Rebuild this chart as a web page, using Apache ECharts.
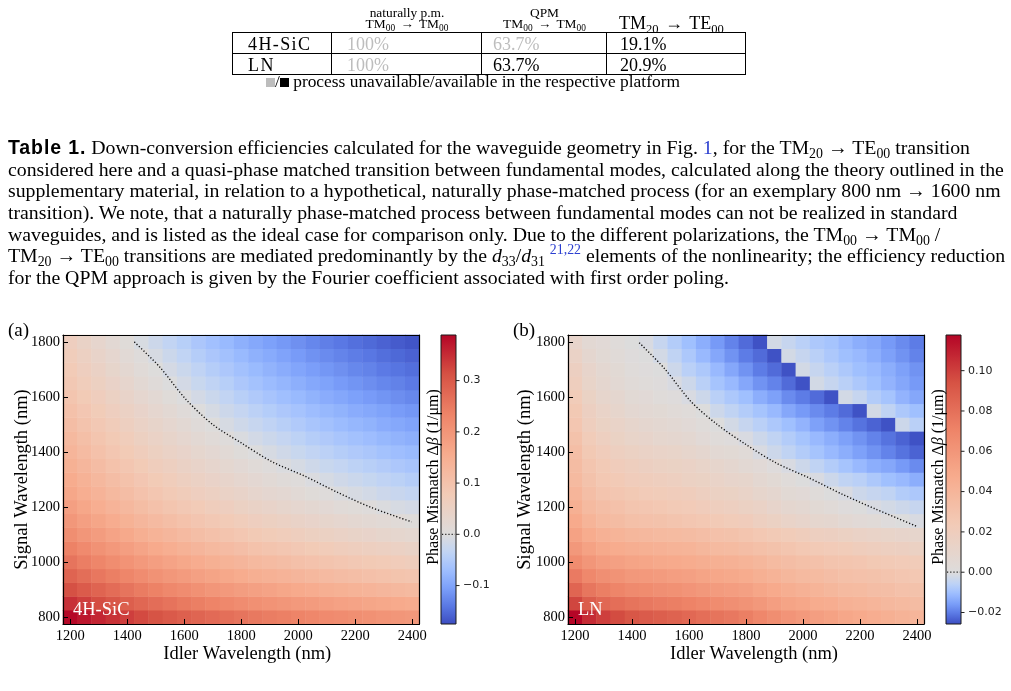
<!DOCTYPE html>
<html><head><meta charset="utf-8">
<script src="https://cdn.jsdelivr.net/npm/echarts@6/dist/echarts.min.js"></script>
<style>
html,body{margin:0;padding:0;background:#fff;width:1011px;height:691px;overflow:hidden;}
#chart{position:absolute;left:0;top:0;width:1011px;height:691px;}
.t{position:absolute;font-family:"Liberation Serif","Times New Roman",serif;color:#000;white-space:nowrap;line-height:1;z-index:2;}
.t sub{font-size:0.7em;vertical-align:-0.3em;line-height:0;}
.t sup{font-size:0.7em;vertical-align:0.55em;line-height:0;}
.ar{margin:0 2px;}
.ln{position:absolute;background:#000;z-index:2;}
.gray{color:#bdbdbd;}
.blue{color:#2b3fd0;}
.cap{font-size:19.8px;left:8px;}
.tb{font-family:"Liberation Sans",Arial,sans-serif;font-weight:bold;}
</style></head>
<body>
<div id="chart"></div>

<div class="t" style="left:332px;width:150px;text-align:center;top:6px;font-size:13.4px">naturally p.m.</div>
<div class="t" style="left:332px;width:150px;text-align:center;top:17px;font-size:13.4px">TM<sub>00</sub> <span class="ar">→</span> TM<sub>00</sub></div>
<div class="t" style="left:482px;width:125px;text-align:center;top:6px;font-size:13.4px">QPM</div>
<div class="t" style="left:482px;width:125px;text-align:center;top:17px;font-size:13.4px">TM<sub>00</sub> <span class="ar">→</span> TM<sub>00</sub></div>
<div class="t" style="left:619px;top:14px;font-size:18px">TM<sub>20</sub> <span class="ar">→</span> TE<sub>00</sub></div>

<div class="ln" style="left:232px;top:32px;width:514px;height:1px"></div>
<div class="ln" style="left:232px;top:53px;width:514px;height:1px"></div>
<div class="ln" style="left:232px;top:74px;width:514px;height:1px"></div>
<div class="ln" style="left:232px;top:32px;width:1px;height:43px"></div>
<div class="ln" style="left:331px;top:32px;width:1px;height:43px"></div>
<div class="ln" style="left:481px;top:32px;width:1px;height:43px"></div>
<div class="ln" style="left:606px;top:32px;width:1px;height:43px"></div>
<div class="ln" style="left:745px;top:32px;width:1px;height:43px"></div>

<div class="t" style="left:248px;top:35px;font-size:18px;letter-spacing:1.4px">4H-SiC</div>
<div class="t gray" style="left:347px;top:35px;font-size:18px">100%</div>
<div class="t gray" style="left:493px;top:35px;font-size:18px">63.7%</div>
<div class="t" style="left:620px;top:35px;font-size:18px">19.1%</div>
<div class="t" style="left:248px;top:56px;font-size:18px;letter-spacing:1.5px">LN</div>
<div class="t gray" style="left:347px;top:56px;font-size:18px">100%</div>
<div class="t" style="left:493px;top:56px;font-size:18px">63.7%</div>
<div class="t" style="left:620px;top:56px;font-size:18px">20.9%</div>

<div class="t" style="left:266px;top:73px;font-size:17.4px"><span style="display:inline-block;width:9px;height:9px;background:#bdbdbd"></span>/<span style="display:inline-block;width:9px;height:9px;background:#000"></span> process unavailable/available in the respective platform</div>

<div class="t cap" style="top:137.5px"><span class="tb" style="font-size:19.5px;letter-spacing:0.9px">Table 1.</span> Down-conversion efficiencies calculated for the waveguide geometry in Fig. <span class="blue">1</span>, for the TM<sub>20</sub> → TE<sub>00</sub> transition</div>
<div class="t cap" style="top:159.5px">considered here and a quasi-phase matched transition between fundamental modes, calculated along the theory outlined in the</div>
<div class="t cap" style="top:180.5px">supplementary material, in relation to a hypothetical, naturally phase-matched process (for an exemplary 800 nm → 1600 nm</div>
<div class="t cap" style="top:202.5px">transition). We note, that a naturally phase-matched process between fundamental modes can not be realized in standard</div>
<div class="t cap" style="top:224.5px">waveguides, and is listed as the ideal case for comparison only. Due to the different polarizations, the TM<sub>00</sub> → TM<sub>00</sub> /</div>
<div class="t cap" style="top:245.5px">TM<sub>20</sub> → TE<sub>00</sub> transitions are mediated predominantly by the <i>d</i><sub>33</sub>/<i>d</i><sub>31</sub> <sup class="blue">21,22</sup> elements of the nonlinearity; the efficiency reduction</div>
<div class="t cap" style="top:267.5px">for the QPM approach is given by the Fourier coefficient associated with first order poling.</div>

<script>
// ---------------- data ----------------
const idler = [1200,1250,1300,1350,1400,1450,1500,1550,1600,1650,1700,1750,1800,1850,1900,1950,2000,2050,2100,2150,2200,2250,2300,2350,2400];
const signal = [800,850,900,950,1000,1050,1100,1150,1200,1250,1300,1350,1400,1450,1500,1550,1600,1650,1700,1750,1800];

// Phase mismatch (1/um), 4H-SiC; one row per signal wavelength (800 -> 1800), columns = idler
const deltaSiC = [
[.385,.370,.356,.343,.331,.319,.309,.299,.290,.281,.273,.266,.258,.251,.245,.239,.233,.227,.222,.217,.212,.208,.203,.199,.195],
[.345,.330,.316,.303,.291,.279,.269,.259,.250,.241,.233,.226,.218,.211,.205,.199,.193,.187,.182,.177,.172,.168,.163,.159,.155],
[.312,.297,.283,.270,.258,.246,.236,.226,.217,.208,.200,.193,.185,.178,.172,.166,.160,.154,.149,.144,.139,.135,.130,.126,.122],
[.283,.268,.254,.241,.229,.217,.207,.197,.188,.179,.171,.164,.156,.149,.143,.137,.131,.125,.120,.115,.110,.106,.101,.097,.093],
[.258,.243,.229,.216,.204,.192,.182,.172,.163,.154,.146,.139,.131,.124,.118,.112,.106,.100,.095,.090,.085,.081,.076,.072,.068],
[.236,.221,.207,.194,.182,.170,.160,.150,.141,.132,.124,.117,.109,.102,.096,.090,.084,.078,.073,.068,.063,.059,.054,.050,.046],
[.215,.200,.186,.173,.161,.149,.139,.129,.120,.111,.103,.096,.088,.081,.075,.069,.063,.057,.052,.047,.042,.038,.033,.029,.025],
[.196,.181,.167,.154,.142,.130,.120,.110,.101,.092,.084,.077,.069,.062,.056,.050,.044,.038,.033,.028,.023,.019,.014,.010,.006],
[.180,.165,.151,.138,.126,.114,.104,.094,.085,.076,.068,.061,.053,.046,.040,.034,.028,.022,.017,.012,.007,.003,-.003,-.008,-.013],
[.166,.151,.137,.124,.112,.100,.090,.080,.071,.062,.054,.047,.039,.032,.026,.020,.014,.008,.003,-.003,-.009,-.014,-.021,-.026,-.031],
[.155,.140,.126,.113,.101,.089,.079,.069,.060,.051,.043,.036,.028,.021,.015,.009,.003,-.004,-.010,-.017,-.023,-.029,-.035,-.040,-.046],
[.144,.129,.115,.102,.090,.078,.068,.058,.049,.040,.032,.025,.017,.010,.004,-.003,-.010,-.018,-.025,-.031,-.038,-.043,-.049,-.055,-.060],
[.133,.118,.104,.091,.079,.067,.057,.047,.038,.029,.021,.014,.006,-.001,-.009,-.017,-.025,-.033,-.039,-.046,-.052,-.057,-.064,-.069,-.074],
[.123,.108,.094,.081,.069,.057,.047,.037,.028,.019,.011,.004,-.005,-.014,-.022,-.030,-.038,-.046,-.052,-.059,-.065,-.070,-.077,-.082,-.087],
[.113,.098,.084,.071,.059,.047,.037,.027,.018,.009,.001,-.008,-.018,-.027,-.035,-.043,-.051,-.059,-.065,-.072,-.078,-.083,-.090,-.095,-.100],
[.104,.089,.075,.062,.050,.038,.028,.018,.009,.000,-.010,-.020,-.030,-.039,-.047,-.055,-.062,-.070,-.077,-.083,-.090,-.095,-.101,-.107,-.112],
[.094,.079,.065,.052,.040,.028,.018,.008,-.001,-.013,-.023,-.033,-.043,-.052,-.060,-.068,-.075,-.083,-.090,-.096,-.103,-.108,-.114,-.120,-.125],
[.085,.070,.056,.043,.031,.019,.009,-.001,-.013,-.025,-.035,-.044,-.055,-.064,-.072,-.079,-.087,-.095,-.101,-.108,-.114,-.120,-.126,-.131,-.137],
[.077,.062,.048,.035,.023,.011,.001,-.012,-.023,-.035,-.046,-.055,-.065,-.074,-.082,-.090,-.098,-.105,-.112,-.118,-.125,-.130,-.137,-.142,-.147],
[.069,.054,.040,.027,.015,.003,-.009,-.022,-.034,-.046,-.056,-.065,-.075,-.085,-.092,-.100,-.108,-.116,-.122,-.129,-.135,-.140,-.147,-.152,-.157],
[.061,.046,.032,.019,.007,-.007,-.020,-.033,-.044,-.056,-.066,-.075,-.086,-.095,-.103,-.110,-.118,-.126,-.133,-.139,-.146,-.151,-.157,-.163,-.168]
];

// Phase mismatch (1/um), LN
const deltaLN = [
[.117,.106,.100,.096,.092,.090,.088,.086,.084,.081,.078,.076,.073,.069,.065,.061,.058,.055,.053,.050,.048,.046,.044,.042,.040],
[.098,.089,.084,.081,.078,.076,.074,.073,.071,.069,.066,.064,.062,.059,.055,.052,.050,.047,.046,.043,.042,.040,.038,.037,.035],
[.085,.077,.073,.070,.067,.066,.064,.063,.061,.059,.057,.056,.054,.051,.048,.045,.043,.041,.039,.037,.036,.034,.033,.031,.030],
[.075,.068,.064,.062,.059,.058,.057,.055,.054,.052,.050,.049,.047,.044,.042,.039,.037,.036,.034,.032,.031,.030,.029,.027,.026],
[.066,.060,.056,.054,.052,.051,.049,.048,.047,.045,.044,.043,.041,.039,.036,.034,.032,.031,.029,.028,.027,.025,.024,.023,.022],
[.059,.053,.049,.047,.045,.044,.043,.042,.041,.039,.037,.036,.034,.032,.030,.028,.026,.024,.023,.022,.020,.019,.018,.017,.016],
[.053,.047,.043,.041,.039,.038,.037,.036,.035,.033,.031,.030,.028,.026,.024,.022,.020,.018,.017,.016,.014,.013,.012,.011,.010],
[.048,.041,.037,.035,.032,.031,.030,.029,.027,.026,.024,.022,.021,.018,.016,.013,.011,.009,.008,.006,.004,.003,.001,.000,-.001],
[.044,.037,.033,.031,.028,.027,.026,.024,.023,.021,.019,.018,.016,.014,.011,.008,.007,.005,.003,.001,.000,-.001,-.002,-.003,-.004],
[.040,.033,.029,.027,.025,.023,.022,.021,.020,.018,.016,.015,.013,.010,.008,.005,.004,.002,.000,-.001,-.003,-.004,-.005,-.007,-.008],
[.037,.030,.026,.024,.021,.020,.019,.018,.016,.015,.013,.011,.010,.007,.005,.002,.000,-.001,-.003,-.005,-.006,-.008,-.010,-.011,-.013],
[.035,.028,.024,.021,.019,.017,.016,.015,.014,.012,.010,.008,.006,.004,.001,-.001,-.003,-.005,-.007,-.009,-.011,-.013,-.014,-.016,-.018],
[.033,.025,.021,.018,.016,.014,.013,.012,.010,.008,.006,.005,.003,-.001,-.003,-.005,-.007,-.009,-.011,-.013,-.015,-.017,-.019,-.021,-.023],
[.030,.022,.018,.015,.012,.011,.009,.008,.007,.004,.002,.001,-.001,-.003,-.005,-.007,-.009,-.011,-.013,-.015,-.017,-.019,-.021,-.023,-.025],
[.027,.019,.015,.013,.010,.008,.007,.006,.004,.002,.000,-.002,-.004,-.006,-.008,-.010,-.012,-.015,-.017,-.019,-.021,-.023,-.025,-.003,-.006],
[.025,.017,.013,.010,.007,.006,.005,.003,.002,.000,-.003,-.005,-.007,-.009,-.011,-.014,-.016,-.018,-.020,-.022,-.025,-.002,-.005,-.008,-.010],
[.022,.015,.010,.008,.005,.004,.002,.001,-.001,-.003,-.006,-.008,-.010,-.013,-.015,-.018,-.020,-.022,-.025,-.002,-.004,-.007,-.009,-.012,-.014],
[.019,.012,.008,.006,.003,.002,.001,-.001,-.003,-.006,-.009,-.011,-.014,-.017,-.019,-.022,-.025,-.002,-.004,-.006,-.008,-.010,-.012,-.014,-.016],
[.017,.011,.007,.005,.002,.001,.000,-.003,-.006,-.008,-.011,-.014,-.017,-.020,-.022,-.025,-.002,-.004,-.006,-.008,-.010,-.011,-.013,-.015,-.017],
[.014,.008,.005,.003,.001,.000,-.002,-.005,-.008,-.011,-.014,-.017,-.020,-.022,-.025,-.002,-.004,-.006,-.008,-.010,-.011,-.013,-.015,-.017,-.019],
[.011,.006,.004,.002,.000,-.001,-.004,-.007,-.010,-.013,-.016,-.019,-.022,-.025,-.002,-.004,-.006,-.008,-.009,-.011,-.013,-.014,-.016,-.018,-.020]
];

// zero-mismatch contour [idler, signal] (nm)
const contourSiC = [[1425,1800],[1513,1710],[1607,1590],[1701,1499],[1800,1433],[1905,1366],[2023,1312],[2140,1252],[2257,1198],[2398,1146]];
const contourLN  = [[1425,1797],[1513,1704],[1607,1583],[1700,1499],[1800,1427],[1904,1361],[2021,1306],[2139,1246],[2256,1192],[2397,1131]];

// colour-scale limits and colorbar ticks
const rangeSiC = [-0.175, 0.389];
const rangeLN = [-0.0257, 0.1177];
const cbTicksSiC = [-0.1, 0.0, 0.1, 0.2, 0.3];
const cbTicksLN = [-0.02, 0.00, 0.02, 0.04, 0.06, 0.08, 0.10];

// ---------------- styling helpers ----------------
const CW = [[59,76,192],[89,119,227],[123,159,249],[158,190,255],[192,212,245],[221,220,220],[242,203,183],[247,172,142],[238,132,104],[214,82,68],[180,4,38]];
function cw(t){ t=Math.max(0,Math.min(1,t)); const x=t*10; const i=Math.min(9,Math.floor(x)); const f=x-i; const a=CW[i], b=CW[i+1];
  return 'rgb('+a.map((v,k)=>Math.round(v+(b[k]-v)*f)).join(',')+')'; }
function tOf(v, lo, hi){ return v<0 ? 0.5*(1 - v/lo) : 0.5 + 0.5*v/hi; }
function stops(r){ const a=[]; for(let k=0;k<=100;k++){ const v=r[0]+(r[1]-r[0])*k/100; a.push(cw(tOf(v,r[0],r[1]))); } return a; }
function heat(m){ const d=[]; m.forEach((row,r)=>row.forEach((v,c)=>d.push([c,r,v]))); return d; }

const SERIF = 'Liberation Serif';
const txt = {color:'#000', fontFamily:SERIF, fontSize:14.5};
const blackLine = {show:true, onZero:false, lineStyle:{color:'#000', width:1.2}};

function xCat(g, padL){ return {type:'category', gridIndex:g, data:idler.map(String), position:'bottom', z:10,
  axisLine:blackLine, axisTick:{show:true, inside:true, length:5, alignWithLabel:true, interval:3, lineStyle:{color:'#000', width:1}},
  axisLabel:Object.assign({interval:3, margin:5}, txt), splitLine:{show:false},
  name:'Idler Wavelength (nm)', nameLocation:'middle', nameGap:21, nameMoveOverlap:false,
  nameTextStyle:{color:'#000', fontFamily:SERIF, fontSize:18.5, padding:[0,0,0,padL]}}; }
function yCat(g, gap){ return {type:'category', gridIndex:g, data:signal.map(String), position:'left', z:10,
  axisLine:blackLine, axisTick:{show:true, inside:true, length:5, alignWithLabel:true, interval:3, lineStyle:{color:'#000', width:1}},
  axisLabel:Object.assign({interval:3, margin:3}, txt), splitLine:{show:false},
  name:'Signal Wavelength (nm)', nameLocation:'middle', nameGap:gap, nameRotate:90, nameMoveOverlap:false,
  nameTextStyle:{color:'#000', fontFamily:SERIF, fontSize:18.5}}; }
function xVal(g){ return {type:'value', gridIndex:g, position:'top', min:1175, max:2425, z:10, axisLine:blackLine,
  axisTick:{show:false}, axisLabel:{show:false}, splitLine:{show:false}}; }
function yVal(g){ return {type:'value', gridIndex:g, position:'right', min:775, max:1825, z:10, axisLine:blackLine,
  axisTick:{show:false}, axisLabel:{show:false}, splitLine:{show:false}}; }
function hid(g, mn, mx){ return {type:'value', gridIndex:g, min:mn, max:mx, show:false}; }

function cbSeries(ai, r, ticks, dec){
  return {type:'custom', xAxisIndex:ai, yAxisIndex:ai, data:[[0,0]], silent:true, clip:false, z:5,
    renderItem:function(params, api){
      const lo=r[0], hi=r[1];
      const a=api.coord([0,hi]), b=api.coord([1,lo]);
      const st=[]; for(let k=0;k<=100;k++){ const v=hi-(hi-lo)*k/100; st.push({offset:k/100, color:cw(tOf(v,lo,hi))}); }
      const ch=[{type:'rect', shape:{x:a[0], y:a[1], width:b[0]-a[0], height:b[1]-a[1]},
        style:{fill:new echarts.graphic.LinearGradient(0,0,0,1,st), stroke:'#1a1a1a', lineWidth:1}}];
      const z0=api.coord([0,0]);
      ch.push({type:'line', shape:{x1:a[0]+1, y1:z0[1], x2:b[0]-1, y2:z0[1]}, style:{stroke:'#222', lineWidth:1.3, lineDash:[1.2,2]}});
      ticks.forEach(function(v){ const p=api.coord([1,v]);
        ch.push({type:'line', shape:{x1:p[0], y1:p[1], x2:p[0]+3.5, y2:p[1]}, style:{stroke:'#222', lineWidth:1}});
        ch.push({type:'text', x:p[0]+7, y:p[1], style:{text:(v<0?'\u2212':'')+Math.abs(v).toFixed(dec),
          font:'11px "DejaVu Sans"', fill:'#222', align:'left', verticalAlign:'middle'}});
      });
      return {type:'group', children:ch};
    }};
}

function cbName(x){ return {type:'text', x:x, y:477, rotation:Math.PI/2, z:20,
  style:{text:'{n|Phase Mismatch Δ}{i|β}{n| (1/μm)}', align:'center', verticalAlign:'middle',
    rich:{n:{fontFamily:SERIF, fontSize:16, fill:'#000'}, i:{fontFamily:SERIF, fontStyle:'italic', fontSize:16, fill:'#000'}}}}; }

const chart = echarts.init(document.getElementById('chart'), null, {renderer:'canvas'});
chart.setOption({
  animation:false,
  backgroundColor:'transparent',
  grid:[
    {left:63, top:335, width:356.5, height:289, containLabel:false, outerBoundsMode:'none'},
    {left:568, top:335, width:356, height:289, containLabel:false, outerBoundsMode:'none'},
    {left:441, top:335, width:15, height:289, containLabel:false, outerBoundsMode:'none'},
    {left:946, top:335, width:15, height:289, containLabel:false, outerBoundsMode:'none'}
  ],
  xAxis:[xCat(0,12), xVal(0), xCat(1,16), xVal(1), hid(2,0,1), hid(3,0,1)],
  yAxis:[yCat(0,31), yVal(0), yCat(1,33), yVal(1), hid(2,rangeSiC[0],rangeSiC[1]), hid(3,rangeLN[0],rangeLN[1])],
  visualMap:[
    {type:'continuous', show:false, seriesIndex:0, dimension:2, min:rangeSiC[0], max:rangeSiC[1], inRange:{color:stops(rangeSiC)}},
    {type:'continuous', show:false, seriesIndex:2, dimension:2, min:rangeLN[0], max:rangeLN[1], inRange:{color:stops(rangeLN)}}
  ],
  series:[
    {type:'heatmap', xAxisIndex:0, yAxisIndex:0, data:heat(deltaSiC), progressive:0, silent:true, emphasis:{disabled:true}, itemStyle:{borderWidth:0}},
    {type:'line', xAxisIndex:1, yAxisIndex:1, data:contourSiC, smooth:0.3, symbol:'none', silent:true, z:6,
      lineStyle:{color:'#111', width:1.4, type:[1.2,2]}},
    {type:'heatmap', xAxisIndex:2, yAxisIndex:2, data:heat(deltaLN), progressive:0, silent:true, emphasis:{disabled:true}, itemStyle:{borderWidth:0}},
    {type:'line', xAxisIndex:3, yAxisIndex:3, data:contourLN, smooth:0.3, symbol:'none', silent:true, z:6,
      lineStyle:{color:'#111', width:1.4, type:[1.2,2]}},
    cbSeries(4, rangeSiC, cbTicksSiC, 1),
    cbSeries(5, rangeLN, cbTicksLN, 2)
  ],
  graphic:[
    {type:'text', x:8, y:322, z:20, style:{text:'(a)', font:'19px "Liberation Serif"', fill:'#000', verticalAlign:'top'}},
    {type:'text', x:513, y:322, z:20, style:{text:'(b)', font:'19px "Liberation Serif"', fill:'#000', verticalAlign:'top'}},
    {type:'text', x:73, y:610, z:20, style:{text:'4H-SiC', font:'18.5px "Liberation Serif"', fill:'#fff', verticalAlign:'middle'}},
    {type:'text', x:578, y:610, z:20, style:{text:'LN', font:'18.5px "Liberation Serif"', fill:'#fff', verticalAlign:'middle'}},
    cbName(433.5), cbName(939)
  ]
});
</script>
</body></html>
